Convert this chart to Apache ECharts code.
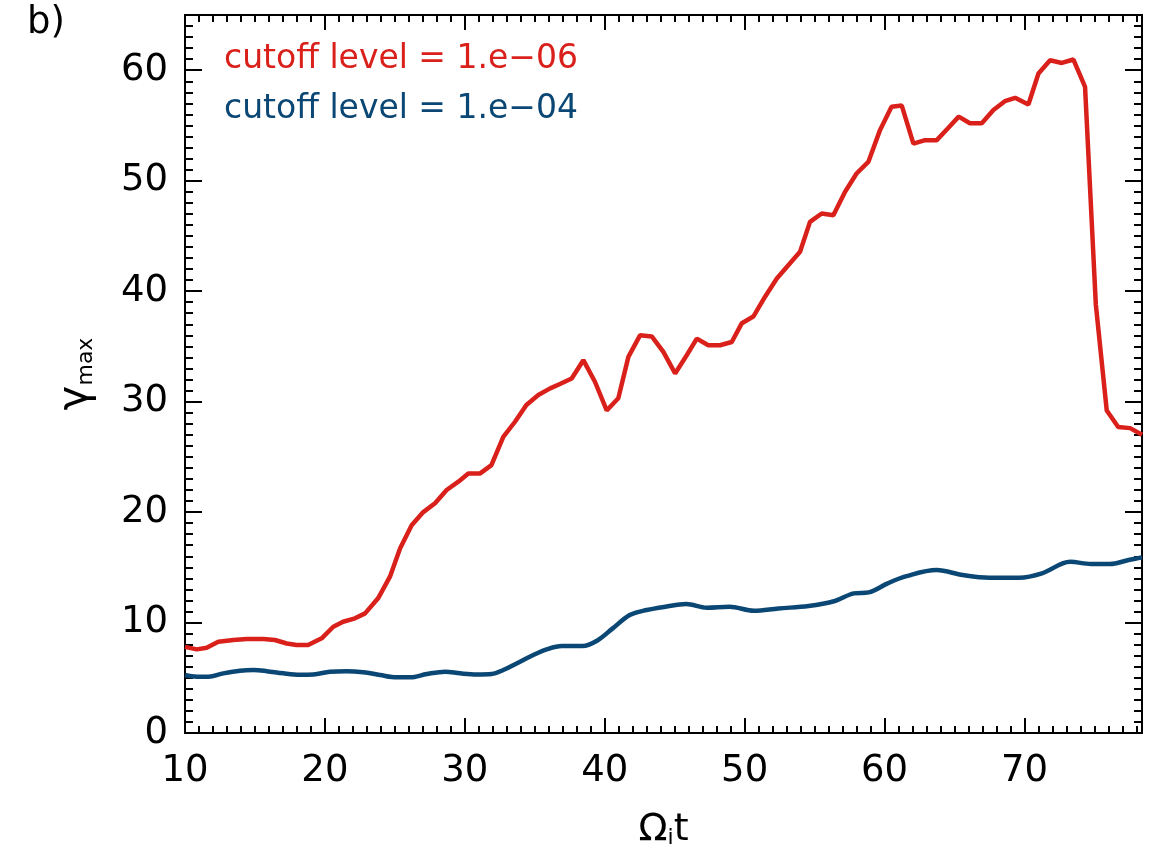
<!DOCTYPE html>
<html>
<head>
<meta charset="utf-8">
<script src="https://cdn.jsdelivr.net/npm/echarts@6/dist/echarts.min.js"></script>
<style>
  html, body { margin: 0; background: #fff; }
  #main { width: 1154px; height: 854px; }
</style>
</head>
<body>
<div id="main"></div>
<script>
// Omega_i t values and gamma_max
var redT = [10.0, 10.84, 11.55, 12.38, 13.45, 14.4, 15.6, 16.43, 17.27, 17.98, 18.8, 19.77,
  20.6, 21.3, 22.15, 22.87, 23.8, 24.65, 25.37, 26.2, 27.03, 27.87, 28.7, 29.54, 30.25,
  31.1, 31.9, 32.75, 33.6, 34.4, 35.25, 36.1, 36.8, 37.64, 38.47, 39.3, 40.14, 40.97,
  41.69, 42.52, 43.36, 44.19, 45.03, 45.86, 46.58, 47.4, 48.24, 49.08, 49.8, 50.62,
  51.46, 52.3, 53.12, 53.96, 54.67, 55.51, 56.34, 57.18, 58.0, 58.84, 59.68, 60.5,
  61.23, 62.06, 62.9, 63.73, 64.5, 65.3, 66.1, 66.95, 67.78, 68.6, 69.33, 70.28, 71.0,
  71.83, 72.67, 73.5, 74.33, 75.1, 75.88, 76.7, 77.55, 78.4];
var redGamma = [7.8, 7.57, 7.72, 8.26, 8.42, 8.5, 8.5, 8.42, 8.1, 7.96, 7.96, 8.57,
  9.62, 10.07, 10.38, 10.83, 12.19, 14.15, 16.7, 18.8, 20.0, 20.8, 22.0, 22.75, 23.5,
  23.5, 24.25, 26.8, 28.2, 29.7, 30.6, 31.2, 31.6, 32.1, 33.75, 31.8, 29.2, 30.3,
  34.05, 36.0, 35.9, 34.5, 32.55, 34.2, 35.7, 35.1, 35.1, 35.4, 37.1, 37.7,
  39.5, 41.15, 42.35, 43.56, 46.27, 47.03, 46.88, 49.0, 50.65, 51.7, 54.6, 56.7,
  56.8, 53.35, 53.67, 53.67, 54.7, 55.8, 55.2, 55.2, 56.4, 57.2, 57.5, 56.9, 59.7,
  60.9, 60.66, 60.97, 58.5, 38.8, 29.2, 27.7, 27.6, 27.0];

var blueT = [10.0, 10.84, 11.67, 12.74, 13.93, 14.9, 15.84, 17.03, 18.2, 19.17, 20.36,
  21.56, 22.74, 23.94, 25.13, 26.1, 27.28, 28.6, 29.66, 30.85, 31.92, 32.75, 33.7,
  34.9, 35.85, 36.93, 38.42, 39.5, 40.57, 41.79, 43.0, 44.34, 45.82, 47.3, 48.91,
  50.67, 52.42, 54.57, 56.45, 57.8, 58.87, 60.22, 61.57, 63.72, 65.6, 67.48, 69.63,
  71.25, 73.27, 74.75, 76.1, 77.44, 78.4];
var blueGamma = [5.25, 5.1, 5.1, 5.4, 5.64, 5.7, 5.6, 5.4, 5.28, 5.3, 5.55,
  5.6, 5.5, 5.25, 5.04, 5.04, 5.34, 5.55, 5.4, 5.3, 5.34, 5.7, 6.3,
  7.06, 7.57, 7.87, 7.87, 8.4, 9.47, 10.68, 11.13, 11.43, 11.67, 11.34, 11.43,
  11.07, 11.28, 11.49, 11.95, 12.64, 12.73, 13.55, 14.2, 14.75, 14.3, 14.06, 14.06,
  14.45, 15.5, 15.3, 15.3, 15.66, 15.9];

var seriesNames = ['cutoff level = 1.e\u221206', 'cutoff level = 1.e\u221204'];
var seriesColors = ['#d9201a', '#0b4774'];

var tRange = [10, 78.4];
var gRange = [0, 65];
var majorStep = 10, minorStep = 1;

var FONT = 'DejaVu Sans';

function pairs(xs, ys) {
  return xs.map(function (x, i) { return [x, ys[i]]; });
}

// one axis per tick size; major and minor axes sit on top of each other
function axis(position, range, step, tickLen, withLabels) {
  return {
    type: 'value',
    position: position,
    min: range[0],
    max: range[1],
    interval: step,
    axisLine: { show: true, onZero: false, lineStyle: { color: '#000', width: 2 } },
    axisTick: { show: true, inside: true, length: tickLen, lineStyle: { color: '#000', width: 2 } },
    axisLabel: {
      show: withLabels,
      showMaxLabel: false,
      color: '#000',
      fontFamily: FONT,
      fontSize: 37,
      margin: 20
    },
    splitLine: { show: false }
  };
}

var xMain = axis('bottom', tRange, majorStep, 15, true);
xMain.name = '{a|\u03a9}{s|i}{a|t}';
xMain.nameLocation = 'middle';
xMain.nameGap = 78;
xMain.nameTextStyle = {
  rich: {
    a: { fontFamily: FONT, fontSize: 38, color: '#000' },
    s: { fontFamily: FONT, fontSize: 22, color: '#000', verticalAlign: 'bottom', padding: [16, 0, 0, 0] }
  }
};

var yMain = axis('left', gRange, majorStep, 17, true);
yMain.axisLabel.margin = 17;
yMain.name = '{a|\u03b3}{s|max}';
yMain.nameLocation = 'middle';
yMain.nameGap = 88;
yMain.nameRotate = 90;
yMain.nameTextStyle = {
  rich: {
    a: { fontFamily: FONT, fontSize: 42, color: '#000' },
    s: { fontFamily: FONT, fontSize: 22, color: '#000', verticalAlign: 'bottom', padding: [14, 0, 0, 0] }
  }
};

var chart = echarts.init(document.getElementById('main'));
chart.setOption({
  animation: false,
  backgroundColor: '#fff',
  title: {
    text: 'b)',
    left: 22,
    top: 0,
    textStyle: { fontFamily: FONT, fontSize: 37, fontWeight: 'normal', color: '#000' }
  },
  legend: {
    orient: 'vertical',
    left: 214,
    top: 38,
    itemGap: 17,
    itemWidth: 0,
    itemHeight: 0,
    selectedMode: false,
    textStyle: { fontFamily: FONT, fontSize: 33, padding: [0, 0, 0, 0] },
    data: seriesNames.map(function (n, i) {
      return { name: n, icon: 'rect', textStyle: { color: seriesColors[i] } };
    })
  },
  grid: { left: 185, right: 12, top: 15, bottom: 121, containLabel: false },
  xAxis: [
    xMain,
    axis('bottom', tRange, minorStep, 7, false),
    axis('top', tRange, majorStep, 15, false),
    axis('top', tRange, minorStep, 7, false)
  ],
  yAxis: [
    yMain,
    axis('left', gRange, minorStep, 8, false),
    axis('right', gRange, majorStep, 17, false),
    axis('right', gRange, minorStep, 8, false)
  ],
  series: [
    {
      name: seriesNames[0],
      type: 'line',
      xAxisIndex: 0,
      yAxisIndex: 0,
      showSymbol: false,
      data: pairs(redT, redGamma),
      lineStyle: { color: seriesColors[0], width: 4.5 },
      itemStyle: { color: seriesColors[0] }
    },
    {
      name: seriesNames[1],
      type: 'line',
      xAxisIndex: 0,
      yAxisIndex: 0,
      showSymbol: false,
      smooth: 0.35,
      data: pairs(blueT, blueGamma),
      lineStyle: { color: seriesColors[1], width: 4.5 },
      itemStyle: { color: seriesColors[1] }
    }
  ]
});
</script>
</body>
</html>
